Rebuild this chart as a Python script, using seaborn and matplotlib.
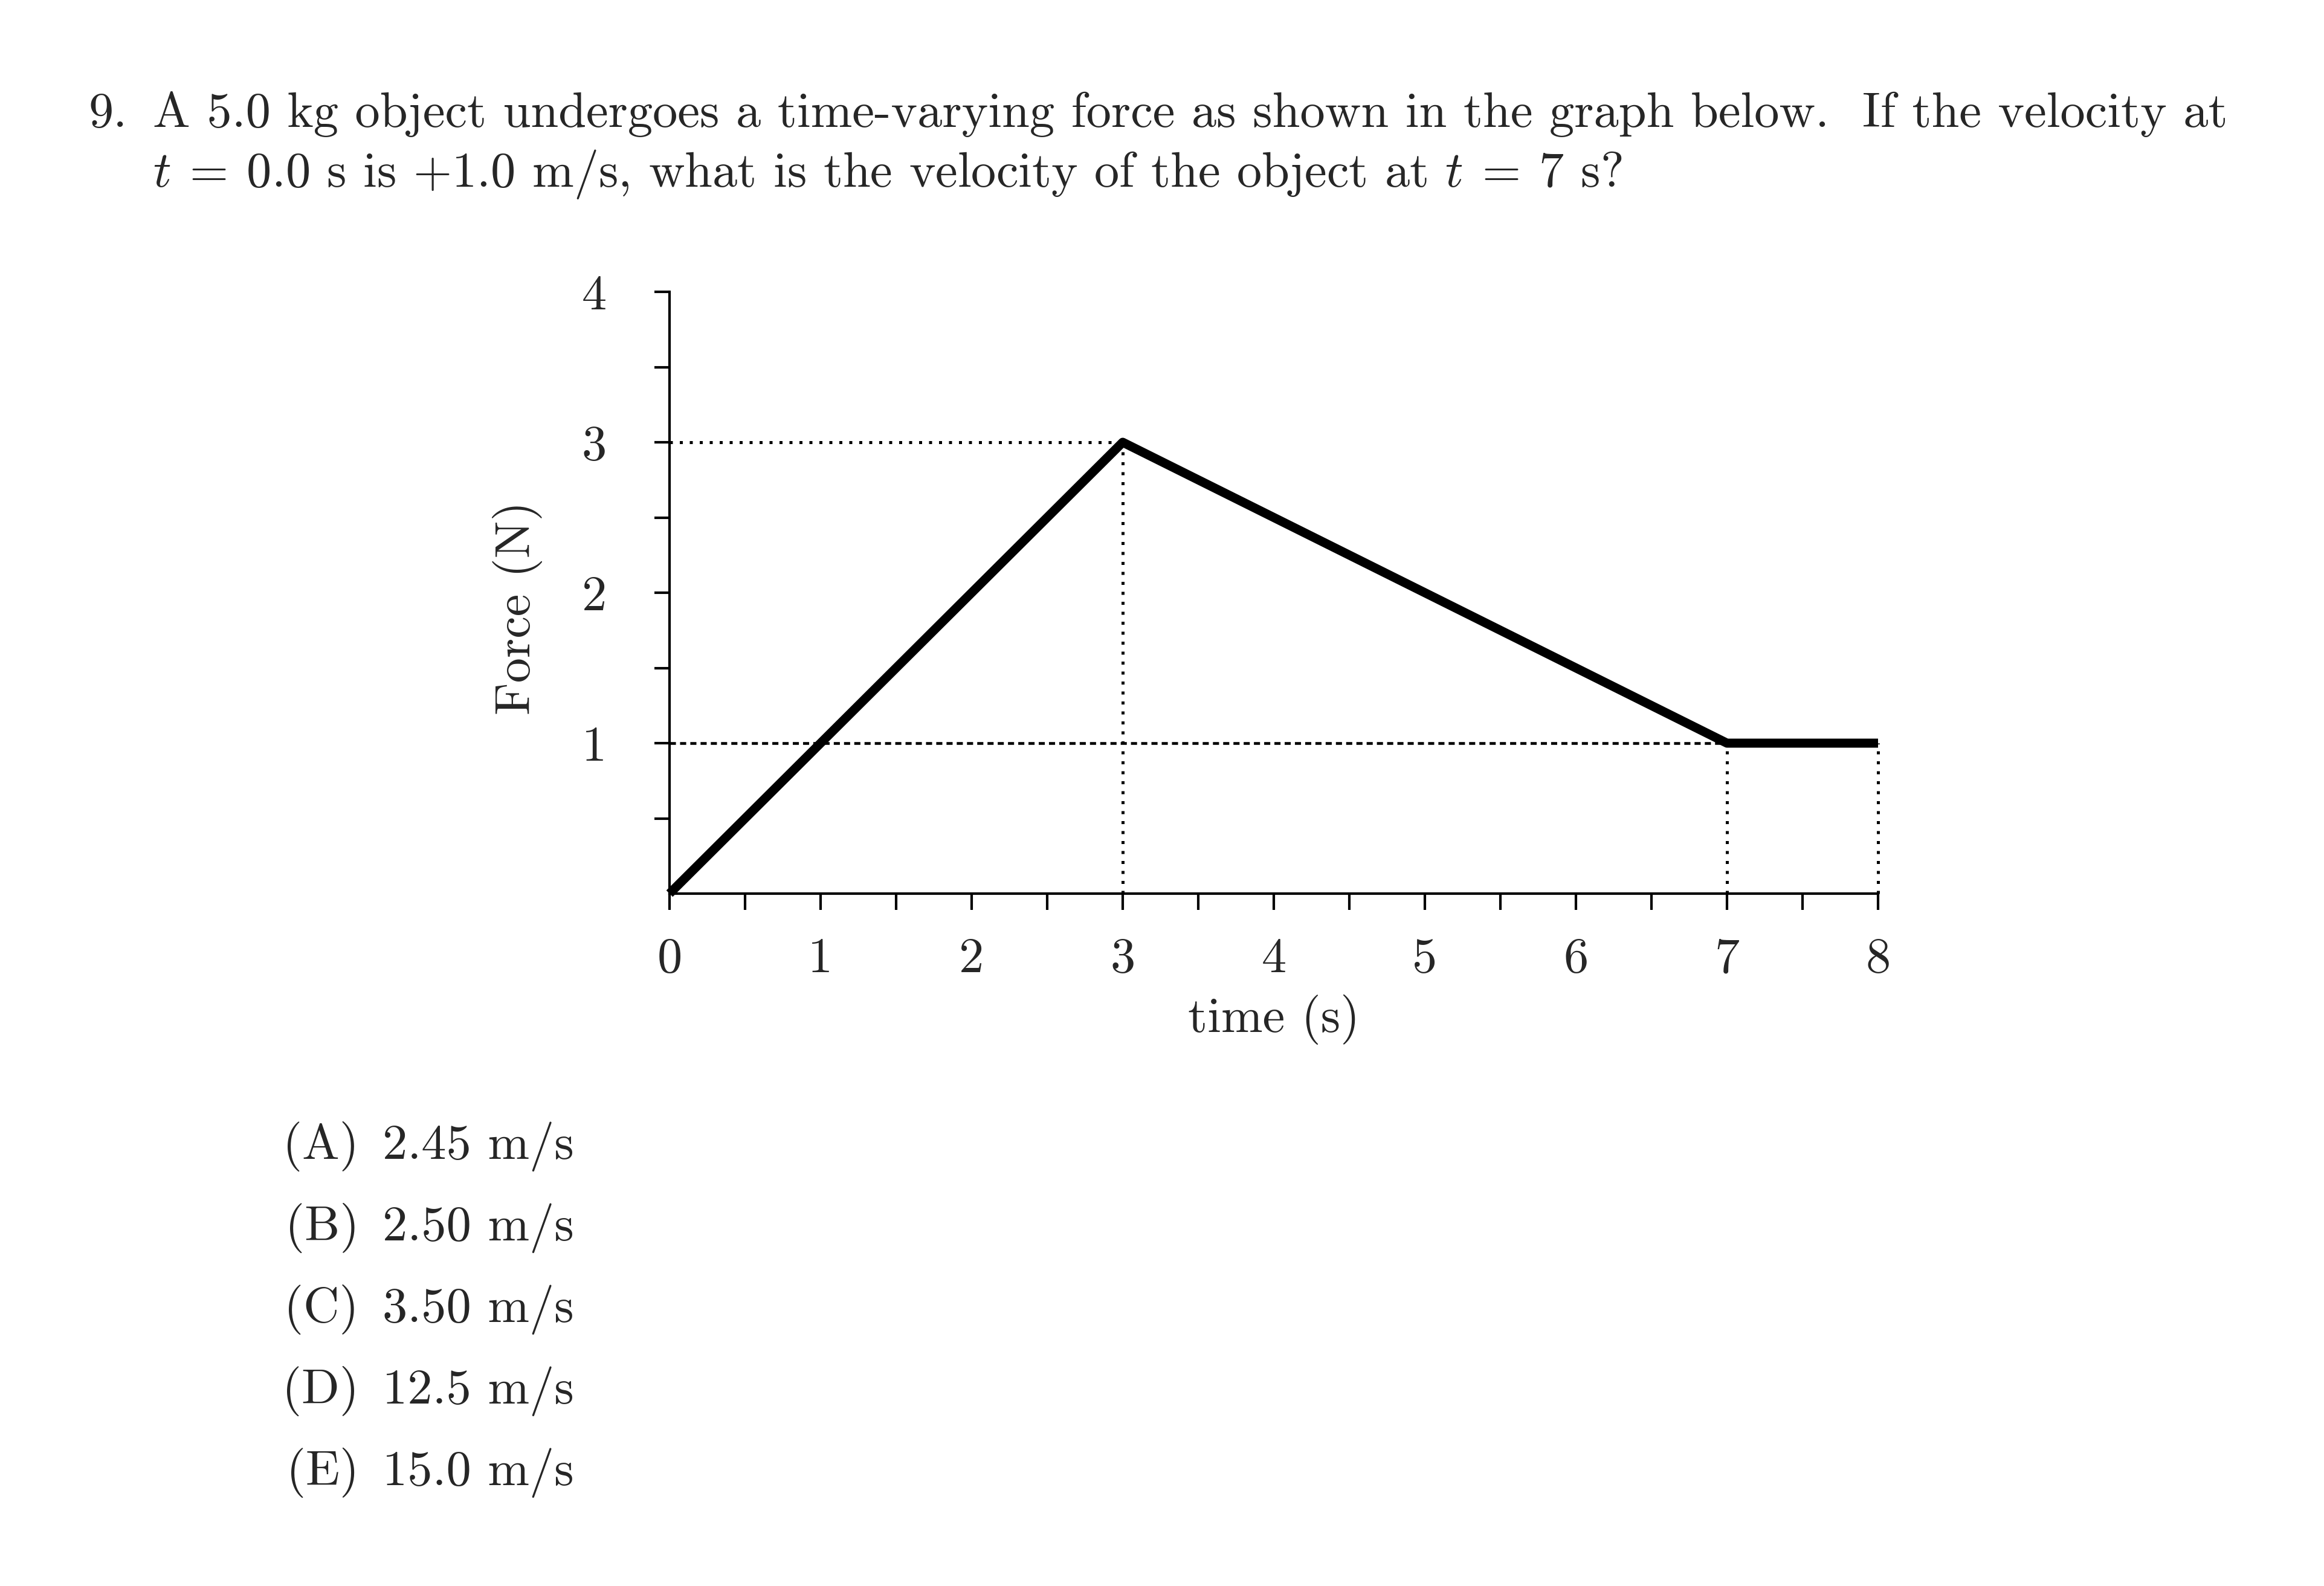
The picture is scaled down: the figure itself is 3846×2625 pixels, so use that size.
import numpy as np
import matplotlib.pyplot as plt
import seaborn as sns
from matplotlib.ticker import MultipleLocator, FixedLocator

# force vs time data
time_s = [0, 3, 7, 8]
force_n = [0, 3, 1, 1]

# guide lines
dotted_h_y = [3]
dotted_h_xmax = [3]
dashed_h_y = [1]
dashed_h_xmax = [7]
dotted_v_x = [3, 7, 8]
dotted_v_ymax = [3, 1, 1]

x_ticks = [0, 1, 2, 3, 4, 5, 6, 7, 8]
y_ticks = [1, 2, 3, 4]

question_num = "9."
question_1 = "A 5.0 kg object undergoes a time-varying force as shown in the graph below.  If the velocity at"
question_2 = r"$t \:=\: 0.0$ s is $+1.0$ m/s, what is the velocity of the object at $t \:=\: 7$ s?"
choice_labels = ["(A)", "(B)", "(C)", "(D)", "(E)"]
choice_values = ["2.45 m/s", "2.50 m/s", "3.50 m/s", "12.5 m/s", "15.0 m/s"]

W, H = 3846, 2625
DPI = 300
FS = 19.8

sns.set_style("ticks")
plt.rcParams['font.family'] = ['cmr10', 'DejaVu Serif']
plt.rcParams['mathtext.fontset'] = 'cm'
plt.rcParams['axes.unicode_minus'] = False
plt.rcParams['axes.formatter.use_mathtext'] = True

fig = plt.figure(figsize=(W / DPI, H / DPI), dpi=DPI)
fig.patch.set_facecolor('white')

def fx(px):
    return px / W

def fy(py):
    return 1 - py / H

ax = fig.add_axes([fx(1108), fy(1479), fx(3108) - fx(1108), fy(483) - fy(1479)])
ax.set_facecolor('white')

# guide lines
dot = (0, (1, 2.3))
for y, xm in zip(dotted_h_y, dotted_h_xmax):
    ax.plot([0, xm], [y, y], color='black', lw=1.2, linestyle=dot, clip_on=False)
for y, xm in zip(dashed_h_y, dashed_h_xmax):
    ax.plot([0, xm], [y, y], color='black', lw=1.1, linestyle=(0, (2.2, 1.5)), clip_on=False)
for x, ym in zip(dotted_v_x, dotted_v_ymax):
    ax.plot([x, x], [0, ym], color='black', lw=1.2, linestyle=dot, clip_on=False)

# main curve
sns.lineplot(x=time_s, y=force_n, color='black', linewidth=3.6, ax=ax)
for line in ax.lines:
    line.set_clip_on(False)
ax.lines[-1].set_solid_capstyle('butt')

ax.set_xlim(0, 8)
ax.set_ylim(0, 4)
sns.despine(ax=ax)
for s in ['left', 'bottom']:
    ax.spines[s].set_linewidth(1.0)
    ax.spines[s].set_color('black')

ax.xaxis.set_major_locator(FixedLocator(x_ticks))
ax.xaxis.set_minor_locator(MultipleLocator(0.5))
ax.yaxis.set_major_locator(FixedLocator(y_ticks))
ax.yaxis.set_minor_locator(FixedLocator([0.5, 1.5, 2.5, 3.5]))
ax.set_xticklabels([str(t) for t in x_ticks])
ax.set_yticklabels([str(t) for t in y_ticks])

ax.tick_params(axis='x', which='both', direction='out', length=6.5, width=1.0, color='black')
ax.tick_params(axis='y', which='both', direction='out', length=6.0, width=1.0, color='black')
ax.tick_params(axis='x', which='major', labelsize=FS, pad=11)
ax.tick_params(axis='y', which='major', labelsize=FS, pad=19)

ax.set_xlabel("time (s)", fontsize=FS, labelpad=5)
fig.text(fx(856), fy(1006), "Force (N)", fontsize=FS, rotation=90, ha='center', va='center')

# question text
fig.text(fx(147), fy(210), question_num, fontsize=FS, ha='left', va='baseline')
fig.text(fx(253), fy(210), question_1, fontsize=FS, ha='left', va='baseline')
fig.text(fx(253), fy(309), question_2, fontsize=FS, ha='left', va='baseline')

for i, (lab, val) in enumerate(zip(choice_labels, choice_values)):
    yb = 1918 + i * 135
    fig.text(fx(594), fy(yb), lab, fontsize=FS, ha='right', va='baseline')
    fig.text(fx(633), fy(yb), val, fontsize=FS, ha='left', va='baseline')

plt.savefig('out.png', dpi=DPI, facecolor='white')
plt.close()
